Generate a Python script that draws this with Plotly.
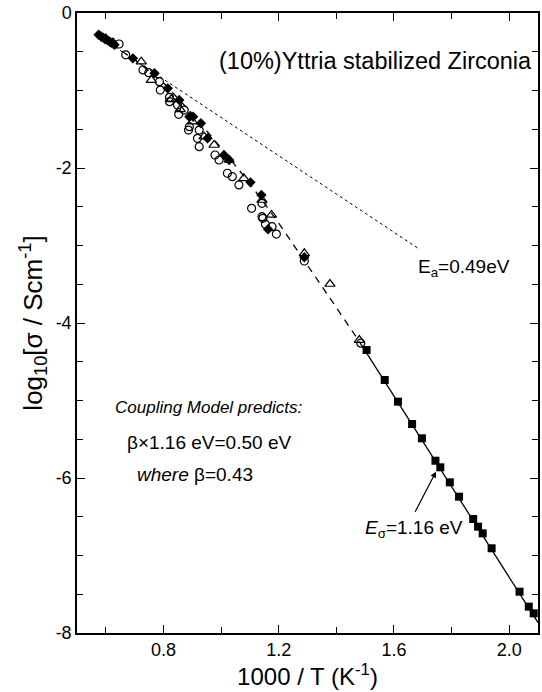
import plotly.graph_objects as go

# Conductivity of 10% yttria-stabilized zirconia: log10(sigma) vs 1000/T
# Filled diamonds
dia_x = [0.575, 0.583, 0.591, 0.598, 0.606, 0.614, 0.622, 0.630, 0.694, 0.769,
         0.815, 0.855, 0.890, 0.903, 0.930, 0.953, 1.010, 1.028, 1.102, 1.140,
         1.163, 1.289]
dia_y = [-0.28, -0.30, -0.32, -0.34, -0.35, -0.37, -0.39, -0.41, -0.585, -0.778,
         -0.972, -1.123, -1.338, -1.338, -1.423, -1.617, -1.832, -1.897, -2.185, -2.348,
         -2.791, -3.152]

# Open triangles
tri_x = [0.600, 0.625, 0.723, 0.758, 0.827, 0.858, 0.901, 0.941, 0.976, 1.028,
         1.079, 1.142, 1.175, 1.289, 1.378, 1.480]
tri_y = [-0.33, -0.38, -0.628, -0.865, -1.114, -1.243, -1.402, -1.596, -1.703, -1.897,
         -2.133, -2.413, -2.606, -3.101, -3.497, -4.22]

# Open circles
cir_x = [0.646, 0.669, 0.729, 0.749, 0.786, 0.789, 0.821, 0.821, 0.849, 0.853,
         0.872, 0.890, 0.887, 0.924, 0.918, 0.924, 0.979, 0.993, 1.022, 1.039,
         1.062, 1.142, 1.106, 1.142, 1.145, 1.154, 1.177, 1.192, 1.289, 1.485]
cir_y = [-0.40, -0.54, -0.735, -0.77, -0.886, -0.994, -1.088, -1.144, -1.187, -1.307,
         -1.252, -1.467, -1.510, -1.510, -1.617, -1.725, -1.832, -1.897, -2.068, -2.112,
         -2.219, -2.456, -2.52, -2.628, -2.649, -2.727, -2.757, -2.852, -3.20, -4.26]

# Filled squares (low-temperature data)
sq_x = [1.505, 1.568, 1.614, 1.663, 1.697, 1.744, 1.761, 1.794, 1.826, 1.875,
        1.892, 1.908, 1.939, 2.036, 2.068, 2.085]
sq_y = [-4.348, -4.735, -5.015, -5.303, -5.488, -5.777, -5.862, -6.056, -6.241, -6.529,
        -6.628, -6.714, -6.907, -7.467, -7.660, -7.746]

# Dashed guide through the high-temperature data
dash_x = [0.58, 0.70, 0.80, 0.90, 1.00, 1.10, 1.20, 1.30, 1.40, 1.48]
dash_y = [-0.31, -0.60, -0.90, -1.30, -1.74, -2.20, -2.71, -3.25, -3.80, -4.24]

# Solid Arrhenius fit, E_sigma = 1.16 eV
fit_x = [1.48, 2.10]
fit_y = [-4.24, -7.865]

# Dotted line, E_a = 0.49 eV
dot_x = [0.58, 1.683]
dot_y = [-0.31, -3.034]

# Axis ticks
x_ticks = [0.8, 1.2, 1.6, 2.0]
x_labels = ["0.8", "1.2", "1.6", "2.0"]
y_ticks = [0, -2, -4, -6, -8]
y_labels = ["0", "-2", "-4", "-6", "-8"]

fig = go.Figure()

fig.add_trace(go.Scatter(x=dot_x, y=dot_y, mode="lines",
                         line=dict(color="black", width=1, dash="dot")))
fig.add_trace(go.Scatter(x=dash_x, y=dash_y, mode="lines",
                         line=dict(color="black", width=1.3, dash="7px,6px")))
fig.add_trace(go.Scatter(x=fit_x, y=fit_y, mode="lines",
                         line=dict(color="black", width=1.3)))
fig.add_trace(go.Scatter(x=cir_x, y=cir_y, mode="markers",
                         marker=dict(symbol="circle-open", size=8, color="black",
                                     line=dict(width=1.2))))
fig.add_trace(go.Scatter(x=tri_x, y=tri_y, mode="markers",
                         marker=dict(symbol="triangle-up-open", size=9, color="black",
                                     line=dict(width=1.2))))
fig.add_trace(go.Scatter(x=dia_x, y=dia_y, mode="markers",
                         marker=dict(symbol="diamond", size=8, color="black")))
fig.add_trace(go.Scatter(x=sq_x, y=sq_y, mode="markers",
                         marker=dict(symbol="square", size=8, color="black")))

font = "Liberation Sans, Arial, sans-serif"

ann = [
    dict(x=0.986, y=-0.62, text="(10%)Yttria stabilized Zirconia",
         xanchor="left", yanchor="middle", showarrow=False, font=dict(size=23.5)),
    dict(x=1.676, y=-3.29, text="E<sub>a</sub>=0.49eV",
         xanchor="left", yanchor="middle", showarrow=False, font=dict(size=19)),
    dict(x=1.493, y=-6.66, text="<i>E</i><sub>σ</sub>=1.16 eV",
         xanchor="left", yanchor="middle", showarrow=False, font=dict(size=19)),
    dict(x=0.624, y=-5.084, text="<i>Coupling Model predicts:</i>",
         xanchor="left", yanchor="middle", showarrow=False, font=dict(size=17)),
    dict(x=0.666, y=-5.548, text="β×1.16 eV=0.50 eV",
         xanchor="left", yanchor="middle", showarrow=False, font=dict(size=19)),
    dict(x=0.700, y=-5.961, text="<i>where</i> β=0.43",
         xanchor="left", yanchor="middle", showarrow=False, font=dict(size=19)),
    dict(x=1.746, y=-5.918, ax=1.671, ay=-6.456, xref="x", yref="y",
         axref="x", ayref="y", text="", showarrow=True, arrowhead=2,
         arrowsize=1, arrowwidth=1.2, arrowcolor="black", standoff=0),
]

axis_common = dict(showline=True, linecolor="black", linewidth=1.5, mirror="allticks",
                   ticks="inside", ticklen=8, tickwidth=1, tickcolor="black",
                   showgrid=False, zeroline=False,
                   tickfont=dict(size=18, color="black"))

fig.update_layout(
    width=542, height=692,
    margin=dict(l=77, r=2, t=13, b=59),
    paper_bgcolor="white", plot_bgcolor="white",
    showlegend=False,
    font=dict(family=font, color="black"),
    annotations=ann,
    xaxis=dict(range=[0.5, 2.1], tickmode="array", tickvals=x_ticks, ticktext=x_labels,
               minor=dict(tickmode="array", tickvals=[0.6, 1.0, 1.4, 1.8],
                          ticks="inside", ticklen=6, tickcolor="black"),
               title=dict(text="1000 / T (K<sup>-1</sup>)", font=dict(size=24), standoff=2),
               **axis_common),
    yaxis=dict(range=[-8, 0], tickmode="array", tickvals=y_ticks, ticktext=y_labels,
               minor=dict(dtick=0.5, ticks="inside", ticklen=6, tickcolor="black"),
               title=dict(text="log<sub>10</sub>[σ / Scm<sup>-1</sup>]", font=dict(size=26), standoff=6),
               **axis_common),
)

fig.write_html("out.html")
